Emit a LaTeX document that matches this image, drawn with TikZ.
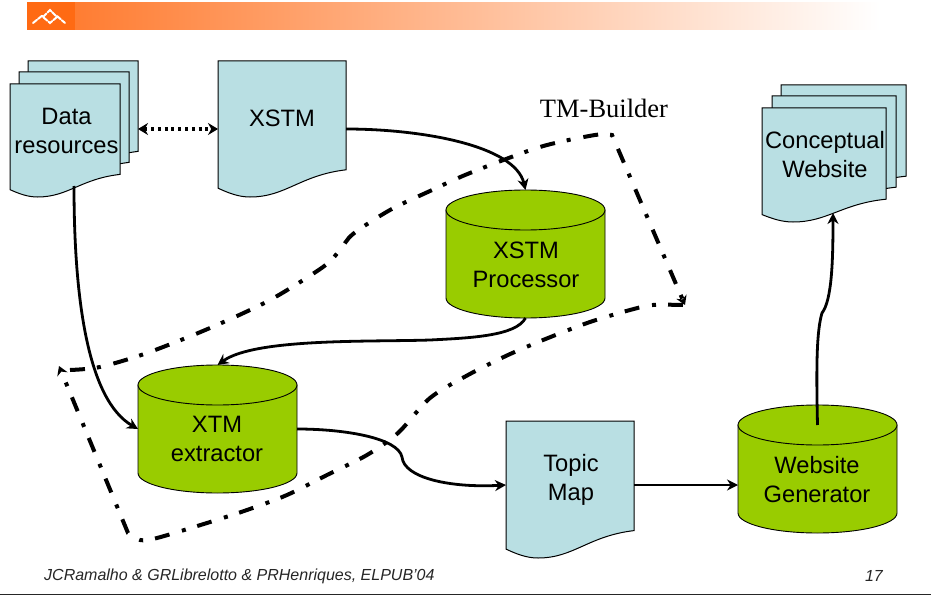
\documentclass[tikz,border=0pt]{standalone}
\usepackage{fontspec}
\setmainfont{Liberation Sans}
\newfontfamily\serifface{Liberation Serif}
\usetikzlibrary{arrows.meta,calc}
\definecolor{docblue}{HTML}{B9DFE3}
\definecolor{cylgreen}{HTML}{99CC00}
\definecolor{bandorange}{HTML}{FF7526}
\definecolor{bandmid}{HTML}{FFB79E}
\definecolor{logoorange}{HTML}{FF6A13}
\tikzset{
  docface/.style={draw=black,line width=1pt,fill=docblue,line join=miter},
  cylface/.style={draw=black,line width=0.9pt,fill=cylgreen},
  anchorbox/.style={inner sep=0pt,outer sep=0pt,draw=none,fill=none},
  lbl/.style={font=\fontsize{23.7pt}{29pt}\selectfont,align=center,inner sep=0pt,text=black},
  link/.style={line width=2.8pt,-{Stealth[length=11pt,width=11pt]}},
  dotlink/.style={line width=3.2pt,dash pattern=on 3pt off 3.8pt,{Stealth[length=10pt,width=12pt]}-{Stealth[length=10pt,width=12pt]}},
  boundary/.style={line width=4pt,dash pattern=on 15pt off 12pt on 4pt off 13pt},
  foot/.style={font=\fontsize{16pt}{18pt}\selectfont\itshape,inner sep=0pt,text=black!85}
}
\newcommand\docpath[4]{\path[docface,shift={(#1,#2)},x=#3pt,y=-#4pt] (0,0)--(1,0)--(1,.8) .. controls (.64,.84) and (.53,1) .. (.25,1) .. controls (.16,1) and (.08,.97) .. (0,.935) -- cycle;}
\newcommand\cylpath[2]{%
  \path[cylface] (#1,#2) -- ++(0,88) arc[start angle=180,end angle=360,x radius=79.5pt,y radius=20pt] -- ++(0,-88) -- cycle;
  \path[cylface] ($(#1,#2)+(79.5,0)$) ellipse[x radius=79.5pt,y radius=20pt];}
\begin{document}
\begin{tikzpicture}[x=1pt,y=-1pt]
\useasboundingbox (0,0) rectangle (931,596);
\fill[white] (0,0) rectangle (931,596);
% header
\shade[left color=bandorange,middle color=bandmid,right color=white] (27,3) rectangle (880,30);
\fill[logoorange] (27,2) rectangle (75,30);
\draw[white,line width=2pt,line cap=round,dash pattern=on 5pt off 1.5pt]
  (33,23) -- (43,15) (43,17) -- (50,10) -- (57,17) -- (50,23) -- cycle (57,16) -- (65,23);
% documents
\docpath{28}{61}{110}{113}
\docpath{19}{72}{110}{113}
\docpath{10}{84}{110}{113}
\docpath{218}{61}{128}{136}
\docpath{781}{85}{125}{114}
\docpath{772}{96}{124}{114}
\docpath{762}{108}{124}{114}
\docpath{506}{421}{128}{137}
% cylinders
\cylpath{446}{210}
\cylpath{138}{385}
\cylpath{738}{425}
% anchors and texts
\node[anchorbox,minimum width=110pt,minimum height=113pt] (data) at (65,140.5) {};
\node[anchorbox,minimum width=110pt,minimum height=113pt] (databack) at (83,129) {};
\node[anchorbox,minimum width=128pt,minimum height=136pt] (xstm) at (282,129) {};
\node[anchorbox,minimum width=124pt,minimum height=114pt] (concept) at (824,165) {};
\node[anchorbox,minimum width=128pt,minimum height=128pt] (topic) at (570,485) {};
\node[anchorbox,minimum width=159pt,minimum height=128pt] (proc) at (525.5,254) {};
\node[anchorbox,minimum width=159pt,minimum height=128pt] (extr) at (217.5,429) {};
\node[anchorbox,minimum width=159pt,minimum height=120pt] (gen) at (817.5,485) {};
\node[lbl] (tdata) at (66.5,130.5) {Data\\resources};
\node[lbl] (txstm) at (282,118) {XSTM};
\node[lbl] (tproc) at (526,264.5) {XSTM\\Processor};
\node[lbl] (textr) at (217,439) {XTM\\extractor};
\node[lbl] (ttopic) at (571,480) {Topic\\Map};
\node[lbl] (tgen) at (817,479.5) {Website\\Generator};
\node[lbl] (tconcept) at (825,155) {Conceptual\\Website};
\node[font=\serifface\fontsize{26.5pt}{28pt}\selectfont,inner sep=0pt] (tmb) at (604,108) {TM-Builder};
% connectors
\draw[dotlink] (databack.east) -- (xstm.west);
\draw[link] (xstm.east) .. controls (420,129) and (515,145) .. (proc.north);
\draw[link] ([xshift=9pt,yshift=11pt]data.south) .. controls (74,300) and (88,400) .. (extr.west);
\draw[link] (proc.south) .. controls (516,336) and (470,338) .. (430,340) .. controls (370,342) and (255,338) .. (extr.north);
\draw[link] (extr.east) .. controls (345,429) and (398,438) .. (402,457) .. controls (404,478) and (450,488) .. (topic.west);
\draw[link] (topic.east) -- (gen.west);
\draw[link] (gen.north) .. controls (816,360) and (817,330) .. (822,313) .. controls (832,300) and (833,260) .. ([xshift=9pt,yshift=9pt]concept.south);
% TM-Builder boundary
\coordinate (bstart) at (59,366);
\coordinate (bright) at (685,305);
\draw[boundary,-{Stealth[length=9pt,width=11pt]}] plot[smooth,tension=.5] coordinates {(70,370) (100,367) (147,353) (210,328) (270,300) (323,267) (340,250) (353,234) (390,210) (430,191) (470,173) (540,147) (595,135) (612,135)} -- (bright);
\draw[boundary,-{Stealth[length=9pt,width=11pt]}] plot[smooth,tension=.5] coordinates {(683,305) (653,305) (630,310) (590,322) (548,338) (508,355) (468,375) (430,398) (398,433) (367,455) (327,475) (287,495) (247,510) (207,523) (157,538) (140,540) (128,533)} -- (bstart);
% footer
\node[foot,anchor=west] (fa) at (44,576) {JCRamalho \& GRLibrelotto \& PRHenriques, ELPUB’04};
\node[foot,anchor=east] (fb) at (883,576) {17};
\draw[black!85,line width=1.6pt] (0,594.5) -- (931,594.5);
\end{tikzpicture}
\end{document}
